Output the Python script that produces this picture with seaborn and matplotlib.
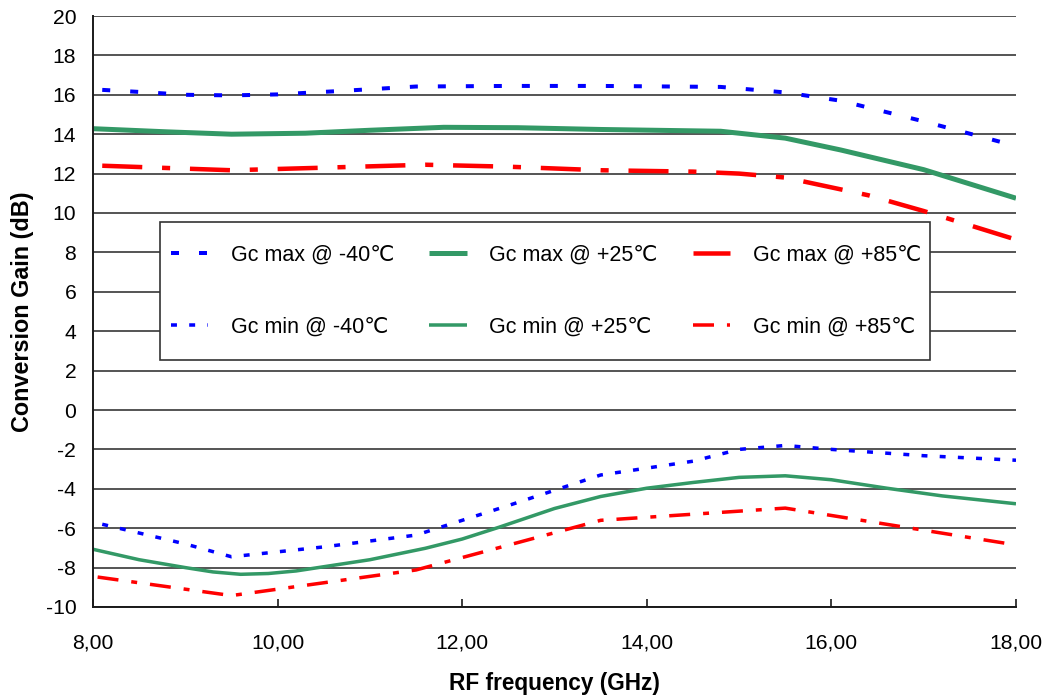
import matplotlib
matplotlib.use("Agg")
import matplotlib.pyplot as plt
import seaborn as sns
from matplotlib.patches import Rectangle
from matplotlib.ticker import FuncFormatter

# data (RF frequency in GHz, gain in dB)
x_max_m40 = [8.1, 8.6, 9.0, 9.5, 10.0, 10.7, 11.5, 12.5, 13.5, 14.8, 15.5, 16.1, 17.0, 18.0]
y_max_m40 = [16.25, 16.12, 16.0, 15.97, 16.02, 16.2, 16.42, 16.45, 16.45, 16.4, 16.12, 15.7, 14.65, 13.4]

x_max_p25 = [8.0, 8.8, 9.5, 10.3, 11.0, 11.8, 12.6, 13.5, 14.8, 15.5, 16.1, 17.0, 18.0]
y_max_p25 = [14.28, 14.12, 14.0, 14.05, 14.2, 14.35, 14.33, 14.24, 14.15, 13.8, 13.2, 12.2, 10.75]

x_max_p85 = [8.1, 9.5, 10.5, 11.6, 12.5, 13.5, 14.5, 15.0, 15.5, 16.4, 17.0, 18.0]
y_max_p85 = [12.4, 12.17, 12.3, 12.45, 12.35, 12.17, 12.1, 12.0, 11.8, 10.9, 10.1, 8.65]

x_min_m40 = [8.1, 9.0, 9.5, 10.5, 11.5, 12.5, 13.5, 14.5, 15.0, 15.5, 16.0, 17.0, 18.0]
y_min_m40 = [-5.8, -6.8, -7.45, -6.95, -6.35, -4.85, -3.3, -2.6, -2.0, -1.8, -2.0, -2.32, -2.55]

x_min_p25 = [8.0, 8.5, 9.0, 9.3, 9.6, 9.9, 10.2, 11.0, 11.6, 12.0, 12.4, 13.0, 13.5, 14.0, 14.5, 15.0, 15.5, 16.0, 16.6, 17.2, 18.0]
y_min_p25 = [-7.07, -7.6, -8.0, -8.22, -8.34, -8.3, -8.17, -7.6, -7.02, -6.55, -5.95, -5.0, -4.39, -3.97, -3.68, -3.42, -3.34, -3.54, -3.97, -4.36, -4.76]

x_min_p85 = [8.05, 9.5, 11.5, 13.5, 15.5, 18.0]
y_min_p85 = [-8.48, -9.42, -8.12, -5.6, -4.98, -6.85]

labels_max = ["Gc max @ -40℃", "Gc max @ +25℃", "Gc max @ +85℃"]
labels_min = ["Gc min @ -40℃", "Gc min @ +25℃", "Gc min @ +85℃"]

blue = "#0000FF"
green = "#339966"
red = "#FF0000"

sns.set_style("white")
plt.rcParams["font.family"] = ["Liberation Sans", "DejaVu Sans"]
plt.rcParams["axes.unicode_minus"] = False
for key in ["text.color", "axes.labelcolor", "xtick.color", "ytick.color"]:
    plt.rcParams[key] = "black"

fig = plt.figure(figsize=(10.49, 6.97), dpi=100)
ax = fig.add_axes([93 / 1049, 1 - 607 / 697, 923 / 1049, 591 / 697])

px = 72 / 100  # one pixel in points

# (x, y, label, colour, width in px, dash pattern in line widths)
series = [
    (x_max_m40, y_max_m40, labels_max[0], blue, 4.0, (2, 5)),
    (x_min_m40, y_min_m40, labels_min[0], blue, 3.5, (1.7, 3.5)),
    (x_max_p25, y_max_p25, labels_max[1], green, 5.0, None),
    (x_min_p25, y_min_p25, labels_min[1], green, 3.5, None),
    (x_max_p85, y_max_p85, labels_max[2], red, 4.5, (8.9, 4.4, 1.8, 4.4)),
    (x_min_p85, y_min_p85, labels_min[2], red, 3.5, (6, 3.7, 1.7, 3.7)),
]

for xs, ys, lab, col, w, dash in series:
    sns.lineplot(x=xs, y=ys, ax=ax, color=col, linewidth=w * px, label=lab,
                 sort=False, legend=False)
    line = ax.lines[-1]
    line.set_solid_capstyle("butt")
    line.set_dash_capstyle("butt")
    line.set_solid_joinstyle("round")
    if dash is not None:
        line.set_dashes(dash)

ax.set_xlim(8, 18)
ax.set_ylim(-10, 20)
ax.set_xticks(range(8, 19, 2))
ax.set_yticks(range(-10, 21, 2))
ax.xaxis.set_major_formatter(FuncFormatter(lambda v, p: f"{v:.2f}".replace(".", ",")))

ax.yaxis.grid(True, color="#262626", linewidth=1.1)
ax.xaxis.grid(False)
ax.set_axisbelow(True)

for side in ["top", "right"]:
    ax.spines[side].set_visible(False)
for side in ["left", "bottom"]:
    ax.spines[side].set_color("#1a1a1a")
    ax.spines[side].set_linewidth(1.4)

ax.tick_params(axis="x", direction="in", length=6, width=1.2, color="#1a1a1a",
               labelsize=15.2, pad=19, bottom=True)
ax.tick_params(axis="y", length=0, labelsize=15.2, pad=12)

ax.set_xlabel("RF frequency (GHz)", fontsize=16.3, fontweight="bold", labelpad=14)
ax.set_ylabel("Conversion Gain (dB)", fontsize=16.8, fontweight="bold", labelpad=8)

# legend box drawn as a plain white rectangle, entries laid out on top of it
box = (0.0727, 0.418, 0.834, 0.233)
ax.add_patch(Rectangle(box[:2], box[2], box[3], transform=ax.transAxes,
                       facecolor="white", edgecolor="#333333", linewidth=1.2, zorder=4))
leg = ax.legend(ncol=3, loc="center", bbox_to_anchor=(box[0] + 0.002, box[1], box[2] - 0.002, box[3]),
                mode="expand", fontsize=15.5, frameon=False, labelspacing=2.35, borderpad=0.4,
                handlelength=1.75, handletextpad=1.05, borderaxespad=0, columnspacing=0.5)
leg.set_zorder(5)

fig.savefig("out.png", dpi=100)
